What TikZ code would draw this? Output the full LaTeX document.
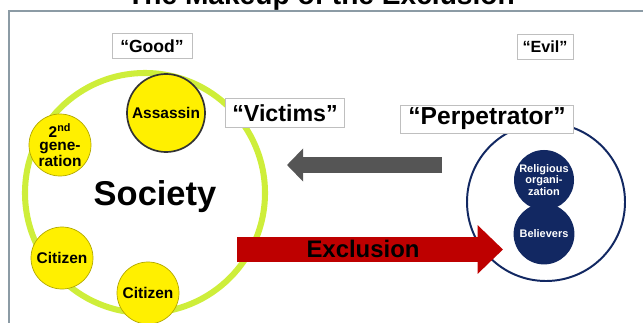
\documentclass[tikz,border=0pt]{standalone}
\usepackage{fontspec}
\setmainfont{Liberation Sans}
\usepackage{xcolor}
\usetikzlibrary{positioning,arrows.meta}

\definecolor{ringgreen}{RGB}{206,238,58}
\definecolor{dotyellow}{RGB}{255,240,0}
\definecolor{navyblue}{RGB}{18,40,98}
\definecolor{framegray}{RGB}{140,155,165}
\definecolor{arrowgray}{RGB}{85,85,85}
\definecolor{arrowred}{RGB}{190,0,0}

\begin{document}
\begin{tikzpicture}[x=0.025cm, y=-0.025cm,
    member/.style={circle, fill=dotyellow, draw=dotyellow!70!black, line width=0.5pt,
        inner sep=0pt, minimum size=1.55cm, align=center,
        font=\bfseries\fontsize{11}{9.5}\selectfont},
    sect/.style={circle, fill=navyblue, inner sep=0pt, minimum size=1.52cm, align=center,
        text=white, font=\bfseries\fontsize{7.8}{8}\selectfont},
    tag/.style={draw=black!25, fill=white, inner sep=0pt, font=\bfseries}]

\useasboundingbox (0,0) rectangle (643,322);

% Frame and title
\draw[framegray, line width=1pt] (9,11) rectangle (660,340);
\node (title) [anchor=base, font=\bfseries\fontsize{20}{24}\selectfont] at (321,5)
    {The Makeup of the Exclusion};

% Society
\draw[ringgreen, line width=4.3pt] (145,193) circle (120);
\node (society) [font=\bfseries\fontsize{24.5}{28}\selectfont] at (155,197) {Society};
\node (assassin) [member, draw=black!80, line width=1.2pt, minimum size=1.95cm] at (166,113) {Assassin};
\node (second) [member] at (60,145) {2\textsuperscript{nd}\\gene-\\ration};
\node (citizenA) [member] at (62,258) {Citizen};
\node (citizenB) [member] at (148,293) {Citizen};

% Perpetrator side
\draw[navyblue, line width=1.4pt] (546,202) circle (79);
\node (believers) [sect] at (544,234) {Believers};
\node (religion) [sect, minimum size=1.5cm] at (544,180) {Religious\\organi-\\zation};

% Labels
\node (good) [tag, minimum width=57pt, minimum height=18pt, font=\bfseries\fontsize{12.5}{14}\selectfont] at (152,46) {“Good”};
\node (evil) [tag, minimum width=40pt, minimum height=18pt, font=\bfseries\fontsize{11.5}{14}\selectfont] at (545,47) {“Evil”};
\node (victims) [tag, minimum width=85pt, minimum height=21pt, font=\bfseries\fontsize{16.5}{18}\selectfont] at (285,113) {“Victims”};
\node (perp) [tag, minimum width=123pt, minimum height=20pt, font=\bfseries\fontsize{17.5}{18}\selectfont] at (487,119) {“Perpetrator”};

% Arrows
\coordinate (grayend) at (442,165);
\coordinate (graytip) at (287,165);
\coordinate (redend) at (237,249.5);
\coordinate (redtip) at (503,249.5);
\draw[arrowgray, line width=10.7pt, -{Triangle[length=11.5pt, width=23pt]}] (grayend) -- (graytip);
\draw[arrowred, line width=17.8pt, -{Triangle[length=18pt, width=33.5pt]}] (redend) -- (redtip);
\node (exclusion) [font=\bfseries\fontsize{17}{18}\selectfont] at (363,249) {Exclusion};

\end{tikzpicture}
\end{document}
